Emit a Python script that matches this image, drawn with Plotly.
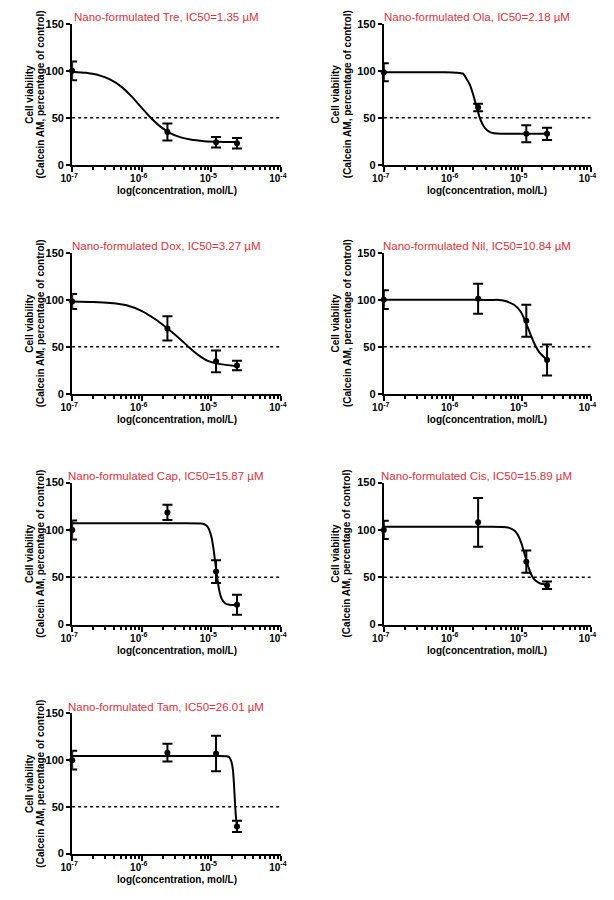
import plotly.graph_objects as go

# ---------------- data ----------------
drugs = ["Tre", "Ola", "Dox", "Nil", "Cap", "Cis", "Tam"]
ic50_text = ["1.35", "2.18", "3.27", "10.84", "15.87", "15.89", "26.01"]

# concentrations (mol/L) of the measured points
conc = [1e-7, 2.34e-6, 1.17e-5, 2.34e-5]

# mean viability (% of control) and error (SD) per drug
viab_tre = [100, 35, 24, 23]
err_tre = [10, 9, 5.5, 5.5]
viab_ola = [98.5, 61, 33, 33]
err_ola = [9.5, 4, 9, 6.5]
viab_dox = [98, 69.5, 34.5, 30]
err_dox = [8, 13, 11.5, 5]
viab_nil = [100, 101, 77.5, 36]
err_nil = [10, 16, 17, 16.5]
viab_cap = [100, 118.5, 56, 21]
err_cap = [10, 8, 12, 10.5]
viab_cis = [100, 108, 66.5, 41.5]
err_cis = [9.7, 25.7, 11.8, 4]
viab_tam = [100, 108, 107, 29]
err_tam = [10, 9.5, 19, 6]

# fitted curves (log10 concentration, viability)
curve_tre_logx = [-7.0, -6.8, -6.6, -6.45, -6.3, -6.15, -6.0, -5.87, -5.75, -5.6, -5.45, -5.3, -5.1, -4.9, -4.63]
curve_tre_y = [99.1, 97.8, 94.9, 90.5, 83.4, 73.1, 60.6, 50.0, 41.7, 34.1, 29.5, 26.9, 25.2, 24.5, 24.2]

curve_ola_logx = [-7.0, -6.5, -6.1, -5.95, -5.85, -5.8, -5.75, -5.7, -5.67, -5.64, -5.6, -5.55, -5.5, -5.45, -5.4, -5.3, -5.0, -4.63]
curve_ola_y = [98.5, 98.5, 98.4, 98.0, 96.9, 91.5, 85.0, 74.0, 66.0, 58.5, 48.6, 41.0, 36.7, 34.6, 33.7, 33.1, 33.0, 33.0]

curve_dox_logx = [-7.0, -6.7, -6.45, -6.22, -5.99, -5.8, -5.63, -5.47, -5.33, -5.19, -5.05, -4.87, -4.65]
curve_dox_y = [98.1, 97.6, 96.4, 94.0, 87.6, 78.9, 69.4, 59.6, 50.1, 41.4, 35.0, 31.5, 29.4]

curve_nil_logx = [-7.0, -6.0, -5.6, -5.45, -5.34, -5.25, -5.11, -5.02, -4.95, -4.88, -4.81, -4.74, -4.63]
curve_nil_y = [100.0, 100.0, 99.9, 99.6, 99.8, 98.8, 94.6, 88.0, 77.8, 64.8, 52.6, 43.8, 36.0]

curve_cap_logx = [-7.0, -5.5, -5.15, -5.1, -5.05, -5.0, -4.97, -4.94, -4.91, -4.88, -4.85, -4.8, -4.74, -4.64]
curve_cap_y = [107.0, 107.0, 106.8, 106.0, 103.0, 93.2, 80.7, 63.8, 46.8, 34.3, 27.2, 22.3, 21.0, 20.8]

curve_cis_logx = [-7.0, -5.5, -5.2, -5.1, -5.05, -5.0, -4.95, -4.9, -4.85, -4.8, -4.73, -4.63]
curve_cis_y = [103.4, 103.4, 102.6, 99.1, 94.2, 85.3, 72.8, 60.4, 51.4, 46.5, 43.5, 42.5]

curve_tam_logx = [-7.0, -5.0, -4.78, -4.74, -4.71, -4.69, -4.675, -4.66, -4.645, -4.632]
curve_tam_y = [104.4, 104.4, 104.2, 103.0, 98.0, 90.0, 75.0, 55.0, 38.0, 30.0]

viab = [viab_tre, viab_ola, viab_dox, viab_nil, viab_cap, viab_cis, viab_tam]
errs = [err_tre, err_ola, err_dox, err_nil, err_cap, err_cis, err_tam]
curves_x = [curve_tre_logx, curve_ola_logx, curve_dox_logx, curve_nil_logx,
            curve_cap_logx, curve_cis_logx, curve_tam_logx]
curves_y = [curve_tre_y, curve_ola_y, curve_dox_y, curve_nil_y,
            curve_cap_y, curve_cis_y, curve_tam_y]

x_tickvals = [1e-7, 1e-6, 1e-5, 1e-4]
x_ticktext = ["10<sup>-7</sup>", "10<sup>-6</sup>", "10<sup>-5</sup>", "10<sup>-4</sup>"]
y_tickvals = [0, 50, 100, 150]
threshold = 50

# ---------------- layout geometry (pixels) ----------------
W, H = 614, 900
col_px = [(62, 277), (383, 596)]
row_px = [(18, 161), (250, 393), (483, 627), (717, 859)]
title_cx = [159, 479]
ytitle1_x = [18, 333]
ytitle2_x = [29, 345]

FONT = "Arial, Liberation Sans, sans-serif"
RED = "#e0313d"

minor_vals = [m * 10 ** e for e in (-7, -6, -5) for m in range(2, 10)]

fig = go.Figure()
layout = dict(
    width=W, height=H,
    margin=dict(l=0, r=0, t=0, b=0),
    paper_bgcolor="white", plot_bgcolor="white",
    showlegend=False,
    annotations=[], shapes=[],
)

for i, drug in enumerate(drugs):
    r, c = divmod(i, 2)
    x0, x1 = col_px[c]
    y0, y1 = row_px[r]
    sfx = "" if i == 0 else str(i + 1)
    xa, ya = "x" + sfx, "y" + sfx

    layout["xaxis" + sfx] = dict(
        type="log", range=[-7, -4], domain=[x0 / W, x1 / W], anchor=ya,
        showline=True, linecolor="black", linewidth=2, mirror=False,
        showgrid=False, zeroline=False,
        tickmode="array", tickvals=x_tickvals, ticktext=x_ticktext,
        ticks="outside", ticklen=5, tickwidth=2, tickcolor="black",
        ticklabelshift=-3, ticklabelstandoff=-2,
        tickfont=dict(family=FONT, size=10, color="black", weight="bold"),
        minor=dict(tickmode="array", tickvals=minor_vals, ticks="outside",
                   ticklen=3, tickwidth=1.5, tickcolor="black", showgrid=False),
    )
    layout["yaxis" + sfx] = dict(
        range=[0, 150], domain=[1 - y1 / H, 1 - y0 / H], anchor=xa,
        showline=True, linecolor="black", linewidth=2, mirror=False,
        showgrid=False, zeroline=False,
        tickmode="array", tickvals=y_tickvals,
        ticks="outside", ticklen=4, tickwidth=2, tickcolor="black",
        tickfont=dict(family=FONT, size=11, color="black", weight="bold"),
    )

    # dotted 50% line
    layout["shapes"].append(dict(
        type="line", xref=xa + " domain", x0=0, x1=1, yref=ya, y0=threshold, y1=threshold,
        line=dict(color="black", width=1.5, dash="dot"), layer="below",
    ))

    # fitted curve
    fig.add_trace(go.Scatter(
        x=[10 ** v for v in curves_x[i]], y=curves_y[i], mode="lines",
        line=dict(color="black", width=2, shape="spline", smoothing=0.6),
        xaxis=xa, yaxis=ya, cliponaxis=False, hoverinfo="skip",
    ))
    # measured points
    fig.add_trace(go.Scatter(
        x=conc, y=viab[i], mode="markers",
        marker=dict(color="black", size=6, symbol="circle"),
        error_y=dict(type="data", array=errs[i], visible=True,
                     color="black", thickness=2, width=5),
        xaxis=xa, yaxis=ya, cliponaxis=False,
    ))

    cy = (y0 + y1) / 2
    # red title
    layout["annotations"].append(dict(
        text=f"Nano-formulated {drug}, IC50={ic50_text[i]} µM",
        xref="paper", yref="paper", x=title_cx[c] / W, y=1 - (y0 - 7) / H,
        xanchor="center", yanchor="middle", showarrow=False,
        font=dict(family=FONT, size=11.5, color=RED),
    ))
    # y axis title (two lines)
    layout["annotations"].append(dict(
        text="Cell viability", textangle=-90,
        xref="paper", yref="paper", x=ytitle1_x[c] / W, y=1 - cy / H,
        xanchor="center", yanchor="middle", showarrow=False,
        font=dict(family=FONT, size=10, color="black", weight="bold"),
    ))
    layout["annotations"].append(dict(
        text="(Calcein AM, percentage of control)", textangle=-90,
        xref="paper", yref="paper", x=ytitle2_x[c] / W, y=1 - cy / H,
        xanchor="center", yanchor="middle", showarrow=False,
        font=dict(family=FONT, size=10, color="black", weight="bold"),
    ))
    # x axis title
    layout["annotations"].append(dict(
        text="log(concentration, mol/L)",
        xref="paper", yref="paper", x=(x0 + x1) / 2 / W, y=1 - (y1 + 26) / H,
        xanchor="center", yanchor="middle", showarrow=False,
        font=dict(family=FONT, size=10, color="black", weight="bold"),
    ))

fig.update_layout(**layout)
fig.write_html(
    "out.html",
    config={"displayModeBar": False},
    post_script="document.body.style.margin='0px';document.body.style.overflow='hidden';",
)
